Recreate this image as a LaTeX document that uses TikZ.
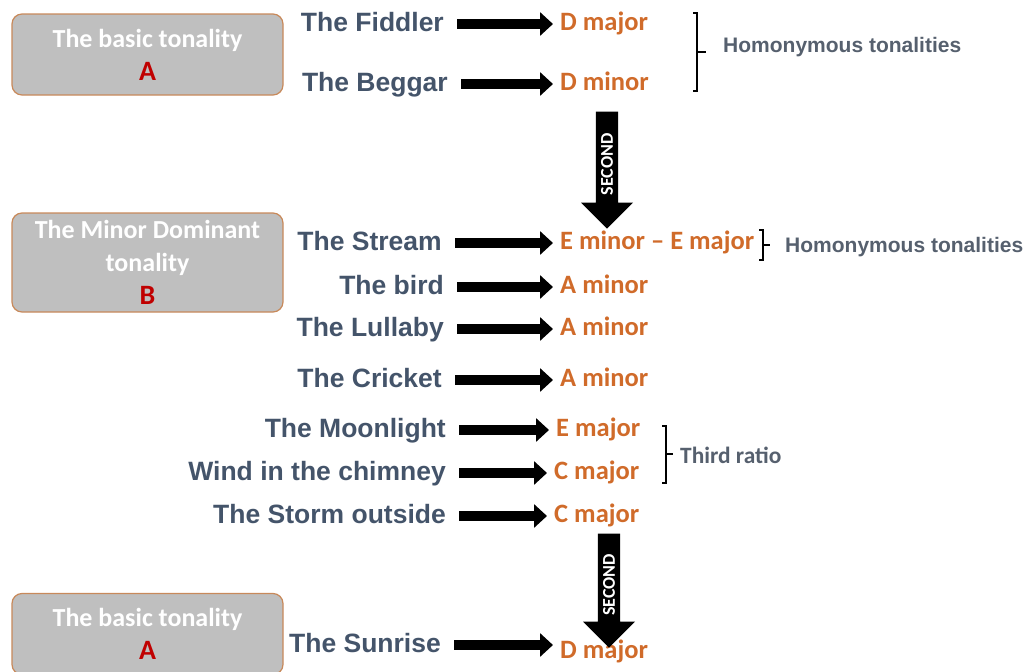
\documentclass[tikz,border=0pt]{standalone}
\usepackage{fontspec}
\setmainfont{Carlito}
\newfontfamily\arialfont{Liberation Sans}
\usepackage{xcolor}
\usepackage{tikz}
\usetikzlibrary{arrows.meta,shapes.arrows}
\definecolor{boxfill}{HTML}{BFBFBF}
\definecolor{boxedge}{HTML}{C8895A}
\definecolor{slate}{HTML}{44546A}
\definecolor{rust}{HTML}{D06B2A}
\definecolor{deepred}{HTML}{C00000}
\definecolor{notegray}{HTML}{56606E}
\newcommand{\tonalletter}[1]{{\color{deepred}\fontsize{28}{33}\selectfont #1}}
\tikzset{tone/.style={rectangle,rounded corners=10pt,draw=boxedge,line width=1.2pt,fill=boxfill,minimum width=271pt,align=center,text=white,font=\bfseries\fontsize{26}{33}\selectfont}}
\tikzset{piece/.style={anchor=east,inner sep=0pt,text=slate,text height=19pt,text depth=5pt,font=\arialfont\bfseries\fontsize{26.5}{30}\selectfont}}
\tikzset{key/.style={anchor=west,inner sep=0pt,text=rust,text height=18pt,text depth=5pt,font=\bfseries\fontsize{26.5}{30}\selectfont}}
\tikzset{arr/.style={line width=10pt,-{Triangle[length=13pt,width=23pt]},shorten <=13pt,shorten >=7pt}}
\tikzset{second/.style={single arrow,fill=black,text=white,shape border rotate=180,rotate=90,minimum height=117pt,minimum width=52pt,single arrow head extend=11pt,inner sep=2pt,font=\bfseries\fontsize{18}{18}\selectfont}}
\tikzset{brk/.style={line width=1.2pt}}
\tikzset{note/.style={anchor=west,inner sep=0pt,text=notegray,font=\arialfont\bfseries\fontsize{21}{24}\selectfont}}

\begin{document}
\begin{tikzpicture}[x=1pt,y=-1pt]
    \useasboundingbox (0,0) rectangle (1029,672);

    \node[tone,minimum height=81pt] (basa) at (147.5,54.5) {The basic tonality\\\tonalletter{A}};
    \node[tone,minimum height=99pt] (domb) at (147.5,262.5) {The Minor Dominant\\tonality\\\tonalletter{B}};
    \node[tone,minimum height=81pt] (basz) at (147.5,634) {The basic tonality\\\tonalletter{A}};

    \node[piece] (fid) at (444,24) {The Fiddler};
    \node[piece] (beg) at (448,84) {The Beggar};
    \node[piece] (str) at (442,243) {The Stream};
    \node[piece] (brd) at (444,287) {The bird};
    \node[piece] (lul) at (444,329) {The Lullaby};
    \node[piece] (cri) at (442,380) {The Cricket};
    \node[piece] (moo) at (446,430) {The Moonlight};
    \node[piece] (win) at (446,473) {Wind in the chimney};
    \node[piece] (sto) at (446,516) {The Storm outside};
    \node[piece] (sun) at (441,645) {The Sunrise};

    \node[key] (dmaj) at (560,24) {D major};
    \node[key] (dmin) at (560,84) {D minor};
    \node[key] (emin) at (560,243) {E minor -- E major};
    \node[key] (amia) at (560,287) {A minor};
    \node[key] (amib) at (560,329) {A minor};
    \node[key] (amic) at (560,380) {A minor};
    \node[key] (emaj) at (556,430) {E major};
    \node[key] (cmaa) at (554,473) {C major};
    \node[key] (cmab) at (554,516) {C major};
    \node[key] (dfin) at (560,652) {D major};

    \draw [arr] (fid) to (dmaj);
    \draw [arr] (beg) to (dmin);
    \draw [arr] (str) to (emin);
    \draw [arr] (brd) to (amia);
    \draw [arr] (lul) to (amib);
    \draw [arr] (cri) to (amic);
    \draw [arr] (moo) to (emaj);
    \draw [arr] (win) to (cmaa);
    \draw [arr] (sto) to (cmab);
    \draw [arr] (sun.east) to (sun.east -| dfin.west);

    \node[second] (seca) at (607,164.5) {SECOND};
    \node[second,minimum height=114pt] (secb) at (609,585) {SECOND};

    \draw [brk] (693,13) -- (697,13) -- (697,91) -- (693,91) (697,52) -- (706,52);
    \node[note] (homa) at (723,47) {Homonymous tonalities};
    \draw [brk] (759,230) -- (763,230) -- (763,260) -- (759,260) (763,245) -- (770,245);
    \node[note] (homb) at (785,247) {Homonymous tonalities};
    \draw [brk] (662,426) -- (666,426) -- (666,483) -- (662,483) (666,454) -- (673,454);
    \node[note,font=\bfseries\fontsize{23.4}{26}\selectfont] (thr) at (680,455) {Third ratio};
\end{tikzpicture}
\end{document}
